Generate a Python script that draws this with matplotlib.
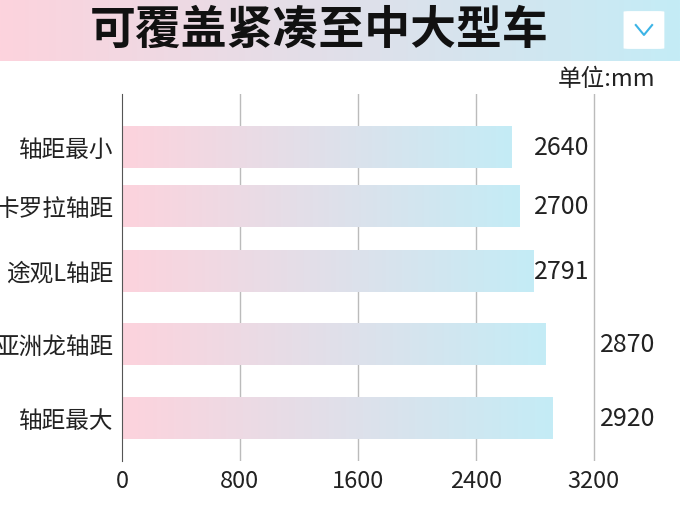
import numpy as np
import matplotlib.pyplot as plt
from matplotlib.patches import FancyBboxPatch
from matplotlib.colors import LinearSegmentedColormap

plt.rcParams['font.family'] = ['Noto Sans CJK SC', 'DejaVu Sans']

categories = ['轴距最小', '卡罗拉轴距', '途观L轴距', '亚洲龙轴距', '轴距最大']
values = [2640, 2700, 2791, 2870, 2920]
label_x = [2985, 2985, 2985, 3430, 3430]
ypos = [148, 207, 272, 345, 419]  # bar centres in pixel rows
ticks = [0, 800, 1600, 2400, 3200]

grad = LinearSegmentedColormap.from_list('g', ['#fdd3dd', '#c4ecf6'])

fig = plt.figure(figsize=(6.8, 5.1), dpi=100)
fig.patch.set_facecolor('white')

# title band
tax = fig.add_axes([0, 1 - 62 / 510, 1, 62 / 510])
tax.imshow(np.linspace(0, 1, 256)[None, :], aspect='auto', cmap=grad, extent=[0, 1, 0, 1])
tax.set_xlim(0, 1); tax.set_ylim(0, 1); tax.axis('off')
tax.text(0.47, 0.5, '可覆盖紧凑至中大型车', ha='center', va='center', fontsize=33,
         fontweight='black', color='#111111')
tax.add_patch(FancyBboxPatch((0.922, 0.2), 0.05, 0.6, boxstyle='round,pad=0.005,rounding_size=0.01',
                             fc='white', ec='none'))
tax.plot([0.935, 0.947, 0.959], [0.58, 0.42, 0.58], color='#3cb4e6', lw=1.5)

ax = fig.add_axes([122 / 680, 1 - 462 / 510, 538 / 680, 367 / 510])
for i, v in enumerate(values):
    y0, y1 = ypos[i] - 21, ypos[i] + 21
    ax.imshow(np.linspace(0, 1, 256)[None, :], aspect='auto', cmap=grad,
              extent=[0, v, y1, y0], zorder=2)
    ax.text(label_x[i], ypos[i], str(v), ha='center', va='center', fontsize=18,
            fontweight='light', color='#222222')
ax.set_xlim(0, 3650)
ax.set_ylim(462, 95)
for t in ticks[1:]:
    ax.axvline(t, color='#bbbbbb', lw=1, zorder=1)
ax.set_yticks(ypos)
ax.set_yticklabels(categories, fontsize=17, fontweight='light', color='#222222')
ax.set_xticks(ticks)
ax.set_xticklabels([str(t) for t in ticks], fontsize=17, fontweight='light', color='#222222')
ax.tick_params(length=0, pad=6)
for s in ['top', 'right', 'bottom']:
    ax.spines[s].set_visible(False)
ax.spines['left'].set_color('#555555')
fig.text(655 / 680, 1 - 80 / 510, '单位:mm', ha='right', va='center', fontsize=17,
         fontweight='light', color='#222222')

fig.savefig('out.png', dpi=100)
